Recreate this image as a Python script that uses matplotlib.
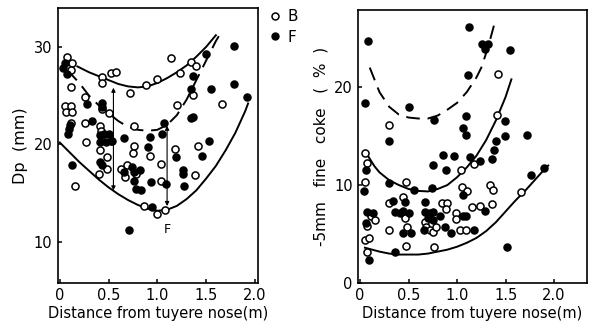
import numpy as np
import matplotlib
matplotlib.use("Agg")
import matplotlib.pyplot as plt
from matplotlib.lines import Line2D

plt.rcParams['font.family'] = ['DejaVu Sans']

# ---- left panel: Dp (mm) ----
dp_b_x = [0.07, 0.13, 0.11, 0.12, 0.05, 0.12, 0.06, 0.13, 0.12, 0.16, 0.26, 0.26, 0.27,
          0.43, 0.43, 0.43, 0.50, 0.41, 0.42, 0.48, 0.41, 0.48, 0.40, 0.48, 0.53, 0.58,
          0.72, 0.76, 0.76, 0.75, 0.63, 0.69, 0.67, 0.78, 0.88, 1.00, 0.92, 0.86, 1.00,
          1.08, 1.14, 1.04, 1.04, 1.18, 1.23, 1.20, 1.35, 1.40, 1.37, 1.42, 1.39, 1.66]
dp_b_y = [29.0, 28.4, 27.6, 25.9, 23.9, 23.9, 23.3, 23.3, 22.2, 15.7, 24.9, 22.2, 20.2,
          26.9, 26.3, 23.6, 23.2, 21.9, 21.4, 20.7, 19.4, 18.7, 17.0, 17.5, 27.3, 27.4,
          25.3, 21.9, 19.8, 19.1, 17.5, 17.9, 16.7, 17.0, 26.1, 26.7, 18.8, 13.7, 12.9,
          13.3, 28.9, 18.0, 16.3, 19.5, 27.3, 24.0, 28.5, 28.0, 25.1, 19.8, 16.9, 24.1]
dp_f_x = [0.03, 0.05, 0.07, 0.09, 0.08, 0.10, 0.13, 0.28, 0.33, 0.43, 0.43, 0.41, 0.45,
          0.50, 0.41, 0.47, 0.52, 0.54, 0.41, 0.43, 0.66, 0.66, 0.74, 0.76, 0.82, 0.76,
          0.78, 0.83, 0.71, 0.92, 0.90, 0.93, 0.95, 1.07, 1.05, 1.09, 1.19, 1.26, 1.26,
          1.27, 1.37, 1.34, 1.35, 1.37, 1.46, 1.53, 1.55, 1.50, 1.79, 1.79, 1.92]
dp_f_y = [27.8, 28.3, 27.2, 21.6, 21.1, 22.0, 17.9, 24.1, 22.4, 24.2, 23.8, 21.0, 21.1,
          21.1, 20.3, 20.3, 20.4, 20.4, 18.2, 17.9, 20.7, 17.2, 17.7, 17.2, 17.4, 16.3,
          15.4, 15.3, 11.2, 20.8, 19.7, 16.2, 13.6, 22.2, 21.1, 15.9, 18.7, 17.4, 17.0,
          15.7, 27.0, 25.7, 22.7, 22.8, 18.8, 20.4, 25.7, 29.3, 30.1, 26.2, 24.9]

dp_upper_x = [0.18, 0.3, 0.4, 0.5, 0.6, 0.7, 0.8, 0.9, 1.0, 1.1, 1.2, 1.3, 1.4, 1.5, 1.6]
dp_upper_y = [28.0, 27.4, 27.0, 26.6, 26.2, 25.95, 25.85, 25.95, 26.3, 26.8, 27.4, 28.1, 29.0, 30.0, 31.2]
dp_mid_x = [0.08, 0.2, 0.3, 0.4, 0.5, 0.6, 0.7, 0.8, 0.9, 1.0, 1.1, 1.2, 1.3, 1.4, 1.5, 1.6, 1.63]
dp_mid_y = [27.6, 26.3, 25.0, 24.0, 23.2, 22.4, 21.8, 21.5, 21.4, 21.5, 22.0, 23.0, 24.6, 26.6, 28.6, 30.6, 31.1]
dp_lower_x = [0.0, 0.1, 0.2, 0.3, 0.4, 0.5, 0.6, 0.7, 0.8, 0.9, 1.0, 1.1, 1.2, 1.3, 1.4,
              1.5, 1.6, 1.7, 1.8, 1.9, 1.93]
dp_lower_y = [20.2, 19.2, 18.2, 17.3, 16.4, 15.6, 14.9, 14.3, 13.8, 13.4, 13.2, 13.3, 13.7,
              14.4, 15.3, 16.5, 17.8, 19.4, 21.2, 23.4, 24.2]

# ---- right panel: -5mm fine coke (%) ----
fc_b_x = [0.30, 1.42, 1.41, 1.17, 1.04, 0.05, 0.07, 0.05, 0.47, 1.05, 1.10, 1.34, 1.37,
          1.66, 0.07, 0.05, 0.09, 0.07, 0.11, 0.15, 0.30, 0.30, 0.44, 0.46, 0.48, 0.47,
          0.67, 0.68, 0.72, 0.75, 0.78, 0.76, 0.84, 0.90, 0.89, 0.99, 0.99, 1.03, 1.09,
          1.15, 1.24, 1.36]
fc_b_y = [16.1, 21.3, 17.2, 12.2, 11.5, 13.3, 12.3, 10.3, 10.3, 9.8, 9.4, 10.0, 9.5,
          9.3, 5.8, 4.4, 4.6, 3.2, 6.8, 6.4, 8.2, 5.4, 8.8, 6.6, 5.7, 3.8,
          6.2, 5.7, 5.4, 5.2, 5.7, 3.7, 8.2, 8.2, 7.6, 7.1, 6.5, 5.4, 5.4,
          7.8, 7.9, 8.1]
fc_f_x = [0.08, 0.05, 0.50, 0.30, 0.76, 1.12, 1.26, 1.32, 1.29, 1.55, 1.11, 1.09, 1.06,
          1.09, 1.49, 1.49, 1.72, 1.40, 1.38, 0.75, 0.86, 0.89, 0.97, 1.13, 1.24, 1.36,
          1.76, 1.90, 0.06, 0.04, 0.30, 0.56, 0.74, 1.06, 0.06, 0.09, 0.07, 0.13, 0.34,
          0.36, 0.41, 0.44, 0.46, 0.44, 0.50, 0.53, 0.36, 0.67, 0.67, 0.72, 0.75, 0.70,
          0.75, 0.66, 0.82, 0.88, 0.94, 1.06, 1.09, 1.17, 1.29, 1.51]
fc_f_y = [24.7, 18.4, 18.0, 14.5, 16.6, 26.1, 24.4, 24.4, 23.9, 23.8, 21.2, 17.1, 15.8,
          15.1, 16.5, 15.0, 15.1, 14.5, 13.6, 12.1, 13.1, 11.5, 13.0, 12.9, 12.5, 12.7,
          11.0, 11.7, 11.5, 9.4, 10.2, 9.5, 9.7, 9.0, 6.1, 2.3, 7.2, 7.1, 8.4,
          7.2, 7.1, 7.3, 8.3, 5.1, 7.1, 5.1, 3.2, 8.3, 7.2, 7.1, 7.2, 6.6,
          6.4, 5.4, 6.8, 5.7, 5.1, 6.8, 6.8, 5.4, 7.4, 3.7]

fc_upper_x = [0.1, 0.2, 0.3, 0.4, 0.5, 0.6, 0.7, 0.8, 0.9, 1.0, 1.1, 1.2, 1.25, 1.3, 1.35, 1.38]
fc_upper_y = [22.0, 19.5, 18.0, 17.2, 16.9, 16.8, 16.8, 17.1, 17.7, 18.4, 19.5, 21.0, 22.0, 23.5, 25.2, 26.3]
fc_mid_x = [0.08, 0.15, 0.2, 0.3, 0.4, 0.5, 0.6, 0.7, 0.8, 0.9, 1.0, 1.1, 1.2, 1.3, 1.4, 1.5, 1.56]
fc_mid_y = [13.0, 11.9, 11.3, 10.5, 10.0, 9.6, 9.4, 9.35, 9.6, 10.0, 10.8, 11.8, 13.0, 14.6, 16.6, 19.0, 20.8]
fc_lower_x = [0.05, 0.2, 0.3, 0.4, 0.5, 0.6, 0.7, 0.8, 0.9, 1.0, 1.1, 1.2, 1.3, 1.4, 1.5,
              1.6, 1.7, 1.8, 1.9, 1.94]
fc_lower_y = [3.6, 3.2, 3.0, 2.9, 2.9, 2.9, 3.0, 3.2, 3.4, 3.7, 4.1, 4.6, 5.3, 6.2, 7.3,
              8.4, 9.4, 10.5, 11.6, 12.0]

fig = plt.figure(figsize=(5.9, 3.29), dpi=100)
ax1 = fig.add_axes([0.098, 0.140, 0.339, 0.836])
ax2 = fig.add_axes([0.607, 0.140, 0.388, 0.830])

ms = 26
for ax in (ax1, ax2):
    for s in ax.spines.values():
        s.set_linewidth(1.2)
    ax.tick_params(direction='in', length=3, width=1.1, labelsize=10.5, pad=4)
    ax.set_xticks([0, 0.5, 1.0, 1.5, 2.0])
    ax.set_xticklabels(['0', '0.5', '1.0', '1.5', '2.0'])
    ax.set_xlabel('Distance from tuyere nose(m)', fontsize=10.5, labelpad=2)

# left
ax1.scatter(dp_b_x, dp_b_y, s=ms, facecolors='white', edgecolors='black', linewidths=1.1, zorder=3)
ax1.scatter(dp_f_x, dp_f_y, s=ms, color='black', zorder=3)
ax1.plot(dp_upper_x, dp_upper_y, color='black', lw=1.4)
ax1.plot(dp_mid_x, dp_mid_y, color='black', lw=1.4, dashes=(7, 4))
ax1.plot(dp_lower_x, dp_lower_y, color='black', lw=1.4)
ax1.annotate('', xy=(0.55, 26.1), xytext=(0.55, 15.0),
             arrowprops=dict(arrowstyle='<|-|>', color='black', lw=0.8, mutation_scale=6))
ax1.annotate('', xy=(1.1, 22.2), xytext=(1.1, 13.4),
             arrowprops=dict(arrowstyle='<|-|>', color='black', lw=0.8, mutation_scale=6))
ax1.text(1.1, 11.3, 'F', fontsize=9, ha='center', va='center')
ax1.set_xlim(-0.02, 2.03)
ax1.set_ylim(5.8, 34.0)
ax1.set_yticks([10, 20, 30])
ax1.set_ylabel('Dp  (mm)', fontsize=11.5, labelpad=4)

handles = [Line2D([], [], marker='o', ls='', mfc='white', mec='black', mew=1.1, ms=5, label='B'),
           Line2D([], [], marker='o', ls='', mfc='black', mec='black', ms=5, label='F')]
fig.legend(handles=handles, loc='upper left', bbox_to_anchor=(0.44, 0.995), frameon=False,
           fontsize=11, handletextpad=0.3, handlelength=1.0, labelspacing=0.35, borderpad=0)

# right
ax2.scatter(fc_b_x, fc_b_y, s=ms, facecolors='white', edgecolors='black', linewidths=1.1, zorder=3)
ax2.scatter(fc_f_x, fc_f_y, s=ms, color='black', zorder=3)
ax2.plot(fc_upper_x, fc_upper_y, color='black', lw=1.4, dashes=(7, 4))
ax2.plot(fc_mid_x, fc_mid_y, color='black', lw=1.4)
ax2.plot(fc_lower_x, fc_lower_y, color='black', lw=1.4)
ax2.set_xlim(-0.02, 2.34)
ax2.set_ylim(0, 27.9)
ax2.set_yticks([0, 10, 20])
ax2.set_ylabel('-5mm   fine   coke   (  %  )', fontsize=11, labelpad=4)

fig.savefig('out.png', dpi=100)
